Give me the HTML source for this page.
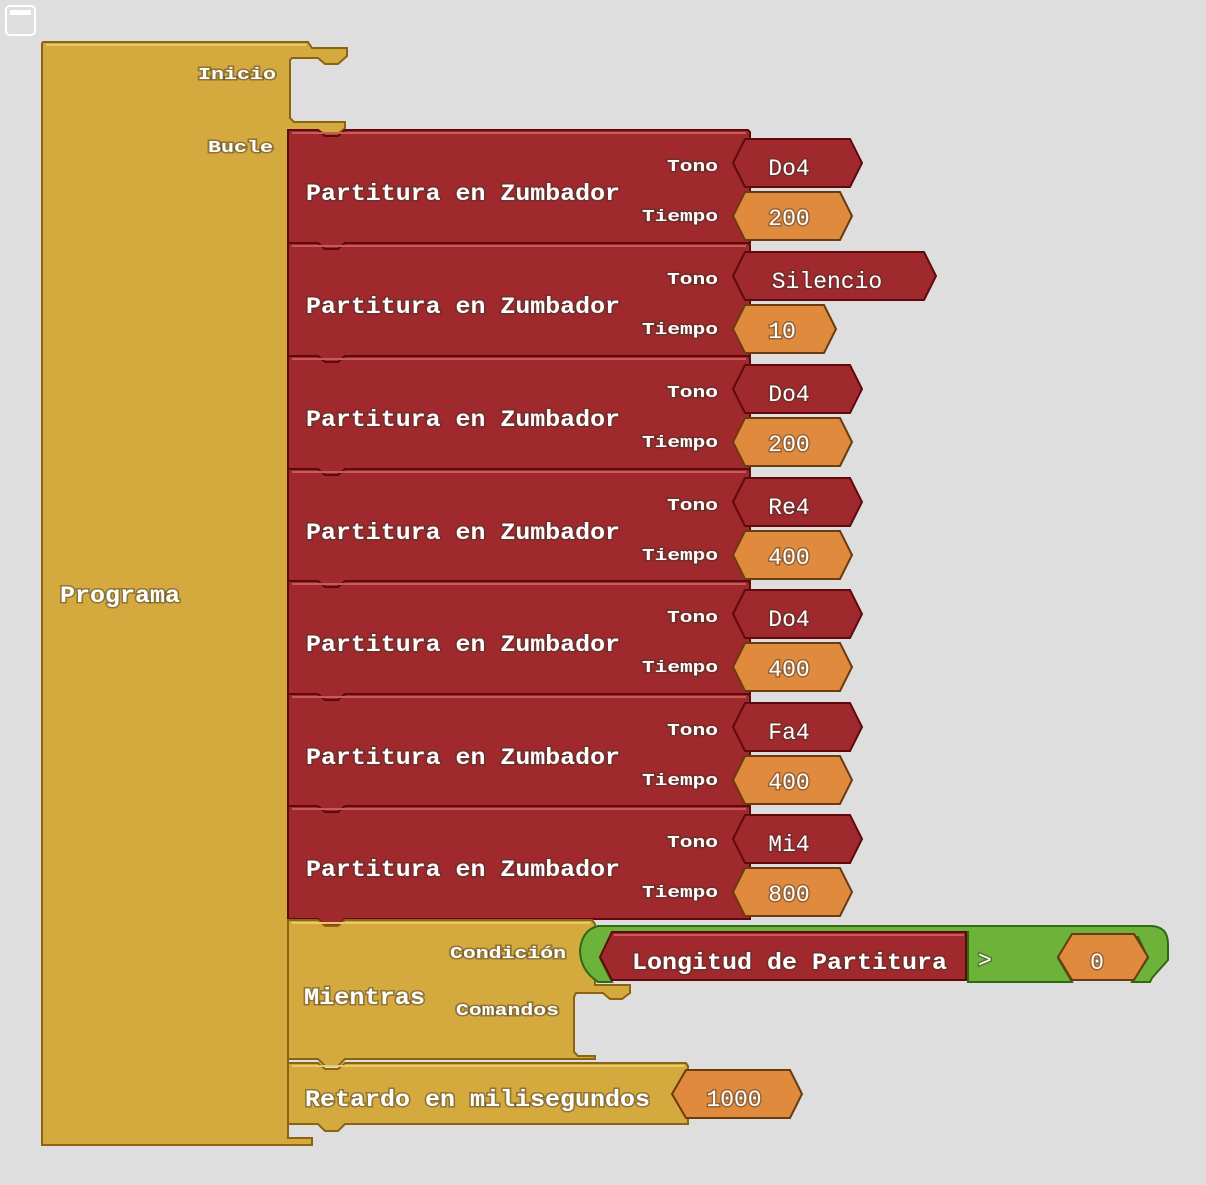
<!DOCTYPE html>
<html><head><meta charset="utf-8"><style>
html,body{margin:0;padding:0;background:#dedede;}
svg{display:block}
text{font-family:"Liberation Mono",monospace;fill:#fff;font-weight:bold;paint-order:stroke;stroke:rgba(60,50,40,0.45);stroke-width:3px;}
.big{font-size:23px;}
.sm{font-size:17px;}
.val{font-size:23px;font-weight:normal;}
.red{fill:#a0292d;stroke:#5e0a0d;stroke-width:2}
.org{fill:#e08a3e;stroke:#6a3a10;stroke-width:2}
.yel{fill:#d4a93e;stroke:#8a6410;stroke-width:2}
.grn{fill:#6db33a;stroke:#2f6a12;stroke-width:2}
</style></head><body>
<svg width="1206" height="1185" viewBox="0 0 1206 1185" xmlns="http://www.w3.org/2000/svg">
<rect x="6" y="6" width="29" height="29" rx="4" fill="none" stroke="#fff" stroke-width="2"/>
<rect x="10" y="10" width="21" height="5" fill="#fff"/>

<!-- Programa -->
<path class="yel" d="M42,44 Q42,42 44,42 L308,42 L312,48 L347,48 L347,56 L338,64 L325,64 L318,58 L292,58 L290,60 L290,118 L294,122 L345,122 L345,128 L338,134 L325,134 L318,130 L288,130 L288,1138 L312,1138 L312,1145 L42,1145 Z"/>
<line x1="46" y1="45" x2="306" y2="45" stroke="#eac86e" stroke-width="2"/>
<text class="sm" x="198" y="79" textLength="78" lengthAdjust="spacingAndGlyphs">Inicio</text>
<text class="sm" x="208" y="152" textLength="65" lengthAdjust="spacingAndGlyphs">Bucle</text>
<text class="big" x="60" y="602" textLength="120" lengthAdjust="spacingAndGlyphs">Programa</text>

<g transform="translate(0,130)">
<path class="red" d="M288,0 L318,0 L325,6 L338,6 L345,0 L748,0 L750,2 L750,113 L345,113 L338,120 L325,120 L318,113 L288,113 Z"/>
<line x1="292" y1="3" x2="746" y2="3" stroke="#c65a5c" stroke-width="2"/>
<text class="big" x="306" y="70" textLength="314" lengthAdjust="spacingAndGlyphs">Partitura en Zumbador</text>
<text class="sm" x="667" y="41" textLength="51" lengthAdjust="spacingAndGlyphs">Tono</text>
<text class="sm" x="642" y="91" textLength="76" lengthAdjust="spacingAndGlyphs">Tiempo</text>
<polygon class="red" points="733,33 745,9 850,9 862,33 850,57 745,57"/><text class="val" x="789" y="45" text-anchor="middle">Do4</text>
<polygon class="org" points="733,86 745,62 840,62 852,86 840,110 745,110"/><text class="val" x="789" y="95" text-anchor="middle">200</text></g>

<g transform="translate(0,243)">
<path class="red" d="M288,0 L318,0 L325,6 L338,6 L345,0 L748,0 L750,2 L750,113 L345,113 L338,120 L325,120 L318,113 L288,113 Z"/>
<line x1="292" y1="3" x2="746" y2="3" stroke="#c65a5c" stroke-width="2"/>
<text class="big" x="306" y="70" textLength="314" lengthAdjust="spacingAndGlyphs">Partitura en Zumbador</text>
<text class="sm" x="667" y="41" textLength="51" lengthAdjust="spacingAndGlyphs">Tono</text>
<text class="sm" x="642" y="91" textLength="76" lengthAdjust="spacingAndGlyphs">Tiempo</text>
<polygon class="red" points="733,33 745,9 924,9 936,33 924,57 745,57"/><text class="val" x="827" y="45" text-anchor="middle">Silencio</text>
<polygon class="org" points="733,86 745,62 824,62 836,86 824,110 745,110"/><text class="val" x="782" y="95" text-anchor="middle">10</text></g>

<g transform="translate(0,356)">
<path class="red" d="M288,0 L318,0 L325,6 L338,6 L345,0 L748,0 L750,2 L750,113 L345,113 L338,120 L325,120 L318,113 L288,113 Z"/>
<line x1="292" y1="3" x2="746" y2="3" stroke="#c65a5c" stroke-width="2"/>
<text class="big" x="306" y="70" textLength="314" lengthAdjust="spacingAndGlyphs">Partitura en Zumbador</text>
<text class="sm" x="667" y="41" textLength="51" lengthAdjust="spacingAndGlyphs">Tono</text>
<text class="sm" x="642" y="91" textLength="76" lengthAdjust="spacingAndGlyphs">Tiempo</text>
<polygon class="red" points="733,33 745,9 850,9 862,33 850,57 745,57"/><text class="val" x="789" y="45" text-anchor="middle">Do4</text>
<polygon class="org" points="733,86 745,62 840,62 852,86 840,110 745,110"/><text class="val" x="789" y="95" text-anchor="middle">200</text></g>

<g transform="translate(0,469)">
<path class="red" d="M288,0 L318,0 L325,6 L338,6 L345,0 L748,0 L750,2 L750,113 L345,113 L338,120 L325,120 L318,113 L288,113 Z"/>
<line x1="292" y1="3" x2="746" y2="3" stroke="#c65a5c" stroke-width="2"/>
<text class="big" x="306" y="70" textLength="314" lengthAdjust="spacingAndGlyphs">Partitura en Zumbador</text>
<text class="sm" x="667" y="41" textLength="51" lengthAdjust="spacingAndGlyphs">Tono</text>
<text class="sm" x="642" y="91" textLength="76" lengthAdjust="spacingAndGlyphs">Tiempo</text>
<polygon class="red" points="733,33 745,9 850,9 862,33 850,57 745,57"/><text class="val" x="789" y="45" text-anchor="middle">Re4</text>
<polygon class="org" points="733,86 745,62 840,62 852,86 840,110 745,110"/><text class="val" x="789" y="95" text-anchor="middle">400</text></g>

<g transform="translate(0,581)">
<path class="red" d="M288,0 L318,0 L325,6 L338,6 L345,0 L748,0 L750,2 L750,113 L345,113 L338,120 L325,120 L318,113 L288,113 Z"/>
<line x1="292" y1="3" x2="746" y2="3" stroke="#c65a5c" stroke-width="2"/>
<text class="big" x="306" y="70" textLength="314" lengthAdjust="spacingAndGlyphs">Partitura en Zumbador</text>
<text class="sm" x="667" y="41" textLength="51" lengthAdjust="spacingAndGlyphs">Tono</text>
<text class="sm" x="642" y="91" textLength="76" lengthAdjust="spacingAndGlyphs">Tiempo</text>
<polygon class="red" points="733,33 745,9 850,9 862,33 850,57 745,57"/><text class="val" x="789" y="45" text-anchor="middle">Do4</text>
<polygon class="org" points="733,86 745,62 840,62 852,86 840,110 745,110"/><text class="val" x="789" y="95" text-anchor="middle">400</text></g>

<g transform="translate(0,694)">
<path class="red" d="M288,0 L318,0 L325,6 L338,6 L345,0 L748,0 L750,2 L750,113 L345,113 L338,120 L325,120 L318,113 L288,113 Z"/>
<line x1="292" y1="3" x2="746" y2="3" stroke="#c65a5c" stroke-width="2"/>
<text class="big" x="306" y="70" textLength="314" lengthAdjust="spacingAndGlyphs">Partitura en Zumbador</text>
<text class="sm" x="667" y="41" textLength="51" lengthAdjust="spacingAndGlyphs">Tono</text>
<text class="sm" x="642" y="91" textLength="76" lengthAdjust="spacingAndGlyphs">Tiempo</text>
<polygon class="red" points="733,33 745,9 850,9 862,33 850,57 745,57"/><text class="val" x="789" y="45" text-anchor="middle">Fa4</text>
<polygon class="org" points="733,86 745,62 840,62 852,86 840,110 745,110"/><text class="val" x="789" y="95" text-anchor="middle">400</text></g>

<g transform="translate(0,806)">
<path class="red" d="M288,0 L318,0 L325,6 L338,6 L345,0 L748,0 L750,2 L750,113 L345,113 L338,120 L325,120 L318,113 L288,113 Z"/>
<line x1="292" y1="3" x2="746" y2="3" stroke="#c65a5c" stroke-width="2"/>
<text class="big" x="306" y="70" textLength="314" lengthAdjust="spacingAndGlyphs">Partitura en Zumbador</text>
<text class="sm" x="667" y="41" textLength="51" lengthAdjust="spacingAndGlyphs">Tono</text>
<text class="sm" x="642" y="91" textLength="76" lengthAdjust="spacingAndGlyphs">Tiempo</text>
<polygon class="red" points="733,33 745,9 850,9 862,33 850,57 745,57"/><text class="val" x="789" y="45" text-anchor="middle">Mi4</text>
<polygon class="org" points="733,86 745,62 840,62 852,86 840,110 745,110"/><text class="val" x="789" y="95" text-anchor="middle">800</text></g>

<!-- Mientras -->
<path class="yel" d="M288,920 L318,920 L325,926 L338,926 L345,920 L592,920 L595,924 L595,985 L630,985 L630,993 L622,999 L610,999 L603,993 L576,993 L574,997 L574,1052 L578,1056 L595,1056 L595,1059 L345,1059 L338,1066 L325,1066 L318,1059 L288,1059 Z"/>
<line x1="292" y1="923" x2="590" y2="923" stroke="#eac86e" stroke-width="2"/>
<text class="sm" x="450" y="958" textLength="116" lengthAdjust="spacingAndGlyphs">Condición</text>
<text class="sm" x="456" y="1015" textLength="103" lengthAdjust="spacingAndGlyphs">Comandos</text>
<text class="big" x="304" y="1004" textLength="121" lengthAdjust="spacingAndGlyphs">Mientras</text>

<!-- green condition -->
<path class="grn" d="M598,926 L1150,926 Q1168,926 1168,944 L1168,960 L1152,978 L1150,982 L1132,982 L1148,958 L1138,937 L1072,937 L1058,958 L1072,982 L968,982 L968,932 L612,932 L600,958 L612,982 L598,982 Q580,970 580,950 Q582,930 598,926 Z"/>
<polygon class="red" points="600,957 612,932 966,932 966,980 612,980"/>
<line x1="614" y1="935" x2="964" y2="935" stroke="#c65a5c" stroke-width="2"/>
<text class="big" x="632" y="969" textLength="315" lengthAdjust="spacingAndGlyphs">Longitud de Partitura</text>
<text class="big" x="978" y="967" style="font-weight:normal">&gt;</text>
<polygon class="org" points="1058,957 1072,934 1134,934 1148,957 1134,980 1072,980"/>
<text class="val" x="1097" y="969" text-anchor="middle">0</text>

<!-- Retardo -->
<path class="yel" d="M288,1063 L318,1063 L325,1069 L338,1069 L345,1063 L686,1063 L688,1066 L688,1124 L345,1124 L338,1131 L325,1131 L318,1124 L288,1124 Z"/>
<line x1="292" y1="1066" x2="684" y2="1066" stroke="#eac86e" stroke-width="2"/>
<text class="big" x="305" y="1106" textLength="345" lengthAdjust="spacingAndGlyphs">Retardo en milisegundos</text>
<polygon class="org" points="672,1094 686,1070 790,1070 802,1094 790,1118 686,1118"/>
<text class="val" x="734" y="1106" text-anchor="middle">1000</text>
</svg>
</body></html>
